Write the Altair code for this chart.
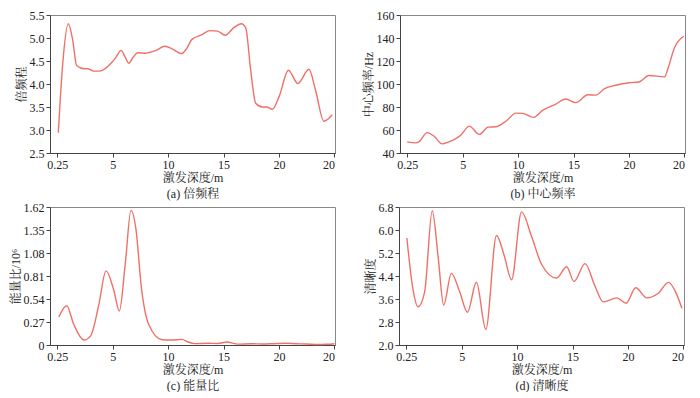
import altair as alt
import pandas as pd

# x positions are index-like: tick at 0 labelled "0.25", then 5,10,15,20, and 25 labelled "20"
x_tick_values = [0, 5, 10, 15, 20, 25]
x_tick_labels = ["0.25", "5", "10", "15", "20", "20"]

# (a) 倍频程
a_x = [0.1, 0.5, 1.0, 1.4, 1.75, 2.4, 2.75, 3.3, 3.8, 4.3, 4.85, 5.3, 5.75, 6.1, 6.45, 6.85, 7.25, 8.0, 8.9, 9.7, 10.4, 11.2, 11.7, 12.15, 12.95, 13.75, 14.45, 15.15, 15.95, 16.6, 17.0, 17.45, 17.9, 18.5, 18.9, 19.4, 20.0, 20.85, 21.7, 22.7, 23.3, 24.05, 24.8]
a_y = [2.94, 4.45, 5.31, 4.95, 4.40, 4.33, 4.33, 4.28, 4.28, 4.33, 4.45, 4.58, 4.73, 4.60, 4.45, 4.58, 4.68, 4.67, 4.73, 4.82, 4.76, 4.66, 4.78, 4.97, 5.06, 5.16, 5.15, 5.06, 5.23, 5.31, 5.22, 4.29, 3.58, 3.50, 3.50, 3.45, 3.72, 4.30, 4.01, 4.32, 3.86, 3.19, 3.33]

# (b) 中心频率
b_x = [0.0, 0.75, 1.05, 1.8, 2.4, 3.15, 3.75, 4.85, 5.6, 6.5, 7.3, 8.0, 8.9, 9.8, 10.4, 11.4, 12.2, 13.4, 14.3, 15.2, 16.3, 17.0, 17.8, 18.8, 20.0, 20.9, 21.8, 23.2, 23.5, 24.1, 24.95]
b_y = [49.7, 48.8, 49.7, 57.7, 54.8, 47.9, 49.7, 55.7, 63.4, 56.2, 62.5, 62.8, 67.6, 74.7, 74.5, 71.0, 77.0, 82.6, 86.9, 83.8, 90.6, 90.3, 96.0, 98.9, 101.1, 101.7, 107.4, 106.2, 113.1, 131.6, 141.5]

# (c) 能量比 / 10^6
c_x = [0.15, 0.85, 1.5, 2.4, 3.0, 3.75, 4.4, 5.1, 5.6, 6.15, 6.65, 7.1, 7.6, 8.25, 9.45, 10.3, 11.25, 11.8, 12.4, 13.6, 14.5, 15.3, 16.3, 17.5, 18.5, 19.5, 20.6, 21.5, 22.5, 23.5, 24.3, 25.0]
c_y = [0.33, 0.46, 0.24, 0.058, 0.104, 0.47, 0.87, 0.645, 0.40, 0.97, 1.58, 1.36, 0.664, 0.24, 0.062, 0.058, 0.066, 0.035, 0.016, 0.02, 0.018, 0.035, 0.01, 0.015, 0.012, 0.015, 0.02, 0.015, 0.012, 0.005, 0.008, 0.015]

# (d) 清晰度
d_x = [0.06, 0.6, 1.06, 1.66, 2.35, 2.87, 3.38, 4.07, 4.83, 5.52, 6.33, 7.18, 8.14, 8.83, 9.5, 10.4, 11.3, 12.2, 13.56, 14.47, 15.13, 16.13, 17.0, 17.78, 19.0, 19.83, 20.7, 21.7, 22.7, 23.66, 24.3, 24.86]
d_y = [5.72, 3.96, 3.33, 3.84, 6.67, 5.10, 3.39, 4.49, 3.84, 3.14, 4.18, 2.54, 5.81, 5.12, 4.27, 6.63, 5.78, 4.81, 4.33, 4.72, 4.21, 4.83, 4.07, 3.50, 3.64, 3.45, 3.99, 3.64, 3.79, 4.18, 3.84, 3.28]

LINE_COLOR = "#f07068"
FONT = "Liberation Serif, Times New Roman, Noto Serif CJK SC, Noto Sans CJK SC"

label_expr = "datum.value == 0 ? '0.25' : (datum.value == 25 ? '20' : format(datum.value, 'd'))"


def panel(xs, ys, caption, ytitle, ydomain, yticks, ylabel_expr):
    df = pd.DataFrame({"x": xs, "y": ys})
    return alt.Chart(df).mark_line(
        color=LINE_COLOR, strokeWidth=1.4, interpolate="monotone"
    ).encode(
        x=alt.X("x:Q",
                scale=alt.Scale(domain=[-0.65, 25.05], nice=False, zero=False),
                axis=alt.Axis(values=x_tick_values, labelExpr=label_expr,
                              title=["激发深度/m", caption], titleLineHeight=16,
                              titlePadding=2)),
        y=alt.Y("y:Q",
                scale=alt.Scale(domain=ydomain, nice=False, zero=False),
                axis=alt.Axis(values=yticks, labelExpr=ylabel_expr, title=ytitle,
                              titlePadding=1)),
    ).properties(width=285, height=138)


pa = panel(a_x, a_y, "(a) 倍频程", "倍频程", [2.5, 5.5],
           [2.5, 3.0, 3.5, 4.0, 4.5, 5.0, 5.5], "format(datum.value, '.1f')")
pb = panel(b_x, b_y, "(b) 中心频率", "中心频率/Hz", [40, 160],
           [40, 60, 80, 100, 120, 140, 160], "format(datum.value, 'd')")
pc = panel(c_x, c_y, "(c) 能量比", "能量比/10⁶", [0, 1.62],
           [0, 0.27, 0.54, 0.81, 1.08, 1.35, 1.62],
           "datum.value == 0 ? '0' : format(datum.value, '.2f')")
pd_ = panel(d_x, d_y, "(d) 清晰度", "清晰度", [2.0, 6.8],
            [2.0, 2.8, 3.6, 4.4, 5.2, 6.0, 6.8], "format(datum.value, '.1f')")

chart = alt.vconcat(
    alt.hconcat(pa, pb, spacing=25),
    alt.hconcat(pc, pd_, spacing=25),
    spacing=0,
).properties(padding={"left": 0, "top": 0, "right": 0, "bottom": 0}).configure(
    font=FONT,
).configure_axis(
    labelFont=FONT, titleFont=FONT, labelFontSize=12, titleFontSize=12,
    titleFontWeight="normal", labelColor="#222", titleColor="#222",
    domainColor="#444", tickColor="#444", tickSize=4, grid=False,
    labelPadding=2,
).configure_view(stroke="#888", strokeWidth=1)

chart.save("out.html", embed_options={"renderer": "svg", "actions": False})
